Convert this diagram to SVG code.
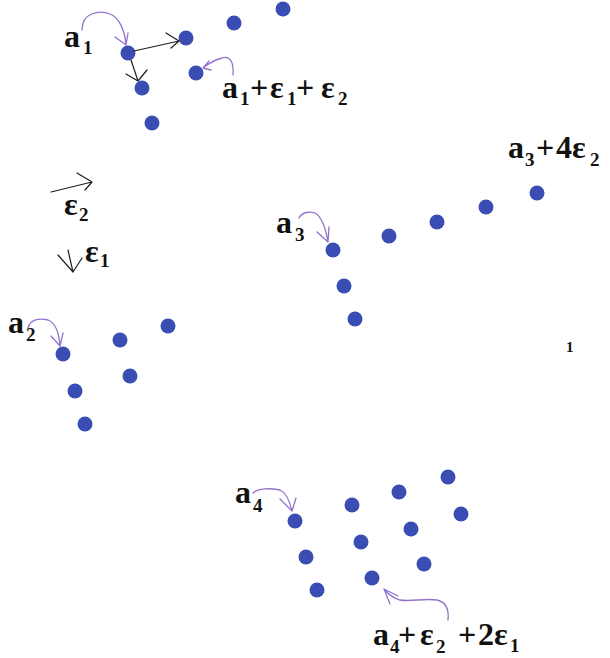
<svg xmlns="http://www.w3.org/2000/svg" width="610" height="658" viewBox="0 0 610 658">
<style>
.dot{fill:#3a4db3}
.pa{fill:none;stroke:#9272cc;stroke-width:1.3;stroke-linecap:round;stroke-linejoin:round}
.ba{fill:none;stroke:#1e1e1e;stroke-width:1.2;stroke-linecap:round;stroke-linejoin:round}
text{font-family:"Liberation Serif","Times New Roman",serif;font-weight:bold;fill:#111}
.m{font-size:32px}
.s{font-size:19px}
</style>
<rect width="610" height="658" fill="#fff"/>
<g id="cluster1">
<g id="n1a"><circle class="dot" cx="128" cy="53" r="7.5"/></g>
<g id="n1b"><circle class="dot" cx="186" cy="38" r="7.5"/></g>
<g id="n1c"><circle class="dot" cx="234" cy="23" r="7.5"/></g>
<g id="n1d"><circle class="dot" cx="283" cy="9" r="7.5"/></g>
<g id="n1e"><circle class="dot" cx="142" cy="88" r="7.5"/></g>
<g id="n1f"><circle class="dot" cx="196" cy="73" r="7.5"/></g>
<g id="n1g"><circle class="dot" cx="152" cy="123" r="7.5"/></g>
</g>
<g id="cluster2">
<g id="n2a"><circle class="dot" cx="63" cy="354" r="7.5"/></g>
<g id="n2b"><circle class="dot" cx="120" cy="340" r="7.5"/></g>
<g id="n2c"><circle class="dot" cx="168" cy="326" r="7.5"/></g>
<g id="n2d"><circle class="dot" cx="130" cy="376" r="7.5"/></g>
<g id="n2e"><circle class="dot" cx="75" cy="391" r="7.5"/></g>
<g id="n2f"><circle class="dot" cx="85" cy="424" r="7.5"/></g>
</g>
<g id="cluster3">
<g id="n3a"><circle class="dot" cx="333" cy="250" r="7.5"/></g>
<g id="n3b"><circle class="dot" cx="389" cy="236" r="7.5"/></g>
<g id="n3c"><circle class="dot" cx="437" cy="222" r="7.5"/></g>
<g id="n3d"><circle class="dot" cx="486" cy="207" r="7.5"/></g>
<g id="n3e"><circle class="dot" cx="537" cy="193" r="7.5"/></g>
<g id="n3f"><circle class="dot" cx="344" cy="286" r="7.5"/></g>
<g id="n3g"><circle class="dot" cx="355" cy="319" r="7.5"/></g>
</g>
<g id="cluster4">
<g id="n4a"><circle class="dot" cx="295" cy="521" r="7.5"/></g>
<g id="n4b"><circle class="dot" cx="352" cy="505" r="7.5"/></g>
<g id="n4c"><circle class="dot" cx="399" cy="492" r="7.5"/></g>
<g id="n4d"><circle class="dot" cx="448" cy="477" r="7.5"/></g>
<g id="n4e"><circle class="dot" cx="461" cy="514" r="7.5"/></g>
<g id="n4f"><circle class="dot" cx="411" cy="529" r="7.5"/></g>
<g id="n4g"><circle class="dot" cx="361" cy="542" r="7.5"/></g>
<g id="n4h"><circle class="dot" cx="306" cy="557" r="7.5"/></g>
<g id="n4i"><circle class="dot" cx="424" cy="564" r="7.5"/></g>
<g id="n4j"><circle class="dot" cx="372" cy="578" r="7.5"/></g>
<g id="n4k"><circle class="dot" cx="317" cy="590" r="7.5"/></g>
</g>
<g id="connectors">
<path class="ba" d="M134,51 L179,41 M166,33 L179,41 L171,48"/>
<path class="ba" d="M131,60 L138,81 M126,74 L138,81 L147,70"/>
<path class="ba" d="M51,192 L92,182 M77,173 L92,182 L85,190"/>
<path class="ba" d="M68,250 L73,272 M58,255 L73,272 L82,258"/>
<path class="pa" d="M82,30 C82,12 100,10 110,14 C120,18 125,32 126,45 M115,37 L126,45 L128,33"/>
<path class="pa" d="M233,75 C234,62 230,55 222,58 C214,60 208,64 203,68 M209,61 L203,68 L211,70"/>
<path class="pa" d="M299,218 C302,212 310,211 315,213 C322,217 326,230 328,242 M317,232 L328,242 L329,227"/>
<path class="pa" d="M28,328 C30,319 40,318 48,320 C56,323 59,333 60,346 M51,336 L60,346 L63,333"/>
<path class="pa" d="M253,493 C258,488 270,488 280,490 C287,493 290,502 292,511 M280,499 L292,511 L296,498"/>
<path class="pa" d="M448,620 C449,610 446,602 437,600 C425,598 410,602 400,600 C393,598 388,594 384,589 M398,596 L384,589 L390,604"/>
</g>
<g id="labels">
<text class="m" x="64" y="47">a</text><text class="s" x="83" y="54">1</text>
<text class="m" x="222" y="98">a</text><text class="s" x="240" y="105">1</text><text class="m" x="250" y="98">+</text><text class="m" x="270" y="98">ε</text><text class="s" x="287" y="105">1</text><text class="m" x="296" y="98">+</text><text class="m" x="321" y="98">ε</text><text class="s" x="338" y="105">2</text>
<text class="m" x="64" y="215">ε</text><text class="s" x="79" y="221">2</text>
<text class="m" x="85" y="262">ε</text><text class="s" x="100" y="267">1</text>
<text class="m" x="276" y="233">a</text><text class="s" x="295" y="241">3</text>
<text class="m" x="508" y="158">a</text><text class="s" x="525" y="166">3</text><text class="m" x="536" y="158">+</text><text class="m" x="556" y="158">4</text><text class="m" x="572" y="158">ε</text><text class="s" x="590" y="166">2</text>
<text class="m" x="8" y="333">a</text><text class="s" x="26" y="341">2</text>
<text x="566" y="352" style="font-size:15px">1</text>
<text class="m" x="235" y="503">a</text><text class="s" x="253" y="512">4</text>
<text class="m" x="373" y="645">a</text><text class="s" x="390" y="653">4</text><text class="m" x="398" y="645">+</text><text class="m" x="420" y="645">ε</text><text class="s" x="436" y="653">2</text><text class="m" x="458" y="645">+</text><text class="m" x="478" y="645">2</text><text class="m" x="494" y="645">ε</text><text class="s" x="510" y="652">1</text>
</g>
</svg>
